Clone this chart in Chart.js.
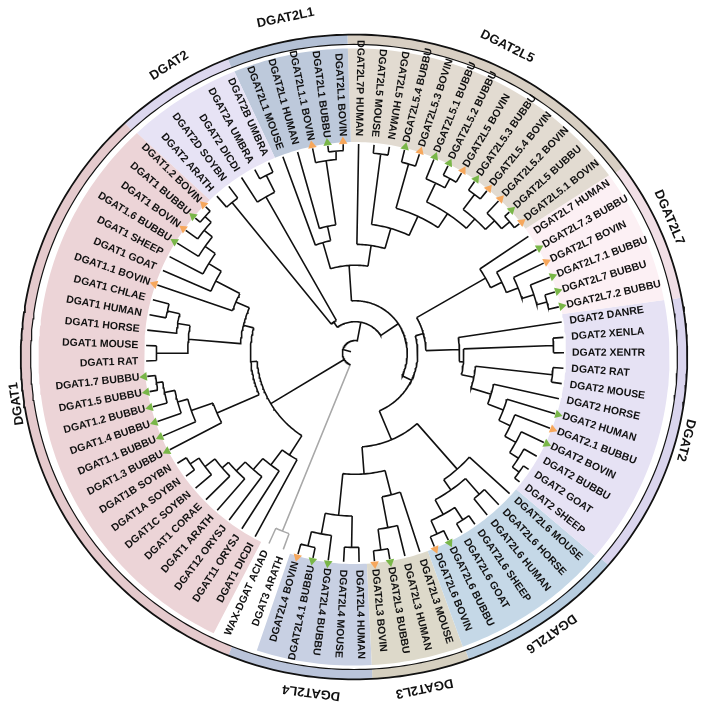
<!DOCTYPE html>
<html>
<head>
<meta charset="utf-8">
<script src="https://cdn.jsdelivr.net/npm/chart.js@4.4.0/dist/chart.umd.min.js"></script>
<style>
  html, body { margin: 0; padding: 0; background: #fff; }
  #wrap { width: 709px; height: 711px; }
</style>
</head>
<body>
<div id="wrap"><canvas id="tree"></canvas></div>
<script>
// leaves, clockwise, starting at the bottom-left (DGAT3 ARATH)
var leafNames = [
  'DGAT3 ARATH', 'WAX-DGAT ACIAD',
  'DGAT1 DICDI', 'DGAT11 ORYSJ', 'DGAT12 ORYSJ', 'DGAT1 ARATH', 'DGAT1 CORAE',
  'DGAT1C SOYBN', 'DGAT1A SOYBN', 'DGAT1B SOYBN',
  'DGAT1.3 BUBBU', 'DGAT1.1 BUBBU', 'DGAT1.4 BUBBU', 'DGAT1.2 BUBBU', 'DGAT1.5 BUBBU', 'DGAT1.7 BUBBU',
  'DGAT1 RAT', 'DGAT1 MOUSE', 'DGAT1 HORSE', 'DGAT1 HUMAN', 'DGAT1 CHLAE',
  'DGAT1.1 BOVIN', 'DGAT1 GOAT', 'DGAT1 SHEEP', 'DGAT1.6 BUBBU', 'DGAT1 BOVIN', 'DGAT1 BUBBU', 'DGAT1.2 BOVIN',
  'DGAT2 ARATH', 'DGAT2D SOYBN', 'DGAT2 DICDI', 'DGAT2A UMBRA', 'DGAT2B UMBRA',
  'DGAT2L1 MOUSE', 'DGAT2L1 HUMAN', 'DGAT2L1.1 BOVIN', 'DGAT2L1 BUBBU', 'DGAT2L1 BOVIN',
  'DGAT2L7P HUMAN', 'DGAT2L5 MOUSE', 'DGAT2L5 HUMAN', 'DGAT2L5.4 BUBBU', 'DGAT2L5.3 BOVIN',
  'DGAT2L5.1 BUBBU', 'DGAT2L5.2 BUBBU', 'DGAT2L5 BOVIN', 'DGAT2L5.3 BUBBU', 'DGAT2L5.4 BOVIN',
  'DGAT2L5.2 BOVIN', 'DGAT2L5 BUBBU', 'DGAT2L5.1 BOVIN',
  'DGAT2L7 HUMAN', 'DGAT2L7.3 BUBBU', 'DGAT2L7 BOVIN', 'DGAT2L7.1 BUBBU', 'DGAT2L7 BUBBU', 'DGAT2L7.2 BUBBU',
  'DGAT2 DANRE', 'DGAT2 XENLA', 'DGAT2 XENTR', 'DGAT2 RAT', 'DGAT2 MOUSE', 'DGAT2 HORSE',
  'DGAT2 HUMAN', 'DGAT2.1 BUBBU', 'DGAT2 BOVIN', 'DGAT2 BUBBU', 'DGAT2 GOAT', 'DGAT2 SHEEP',
  'DGAT2L6 MOUSE', 'DGAT2L6 HORSE', 'DGAT2L6 HUMAN', 'DGAT2L6 SHEEP', 'DGAT2L6 GOAT', 'DGAT2L6 BUBBU', 'DGAT2L6 BOVIN',
  'DGAT2L3 MOUSE', 'DGAT2L3 HUMAN', 'DGAT2L3 BUBBU', 'DGAT2L3 BOVIN',
  'DGAT2L4 HUMAN', 'DGAT2L4 MOUSE', 'DGAT2L4 BUBBU', 'DGAT2L4.1 BUBBU', 'DGAT2L4 BOVIN'
];

// arrow marks at the tips: g = green, o = orange
var leafMarks = [
  '', '',
  '', '', '', '', '', '', '', '',
  'g', 'g', 'g', 'g', 'g', 'g',
  '', '', '', '', '',
  'o', '', '', 'g', 'o', 'g', 'o',
  '', '', '', '', '',
  '', '', 'o', 'g', 'o',
  '', '', '', 'g', 'o', 'g', 'g', 'o', 'g', 'o', 'o', 'g', 'o',
  '', 'g', 'o', 'g', 'g', 'g',
  '', '', '', '', '', '', 'g', 'o', 'g', '', '', '',
  '', '', '', '', '', 'g', 'o',
  '', '', 'g', 'o',
  '', '', 'g', 'g', 'o'
];

var grayLeaves = ['DGAT3 ARATH', 'WAX-DGAT ACIAD'];

// topology; leaf = index in leafNames, number after ')' = node depth (1 = tips)
var treeNewick =
  '(' +
    '(0,1)0.92,' +
    '((2,(3,(4,(5,(6,(7,(8,9)0.95)0.9)0.84)0.8)0.74)0.67)0.58,' +
     '((10,(11,(12,(13,(14,15)0.96)0.93)0.88)0.83)0.72,' +
      '(((16,17)0.95,(18,(19,20)0.92)0.86)0.8,(21,(22,(23,(24,(25,(26,27)0.97)0.93)0.88)0.82)0.75)0.62)0.55)0.5)0.47,' +
    '(((28,29)0.93,(30,(31,32)0.95)0.86)0.18,' +
     '(((33,(34,(35,(36,37)0.97)0.93)0.62)0.55,' +
       '(38,((39,40)0.96,((41,42)0.94,((43,(44,45)0.95)0.9,((46,47)0.95,(48,(49,50)0.97)0.92)0.86)0.8)0.72)0.62)0.52)0.42,' +
      '(((51,(52,(53,(54,(55,56)0.95)0.9)0.84)0.78)0.72,' +
        '(57,((58,59)0.95,((60,61)0.95,(62,(63,(64,(65,(66,(67,68)0.97)0.93)0.88)0.82)0.76)0.68)0.58)0.52)0.5)0.34,' +
       '((69,((70,71)0.9,((72,73)0.95,(74,75)0.95)0.88)0.8)0.74,' +
        '((76,(77,(78,79)0.95)0.85)0.7,((80,81)0.93,(82,(83,84)0.95)0.88)0.78)0.58)0.45)0.3)0.25)0.15' +
  ')0.06';

var groupNames = ['DGAT1', 'DGAT2', 'DGAT2L1', 'DGAT2L5', 'DGAT2L7', 'DGAT2', 'DGAT2L6', 'DGAT2L3', 'DGAT2L4'];
var groupFirst = [2, 28, 33, 38, 51, 57, 69, 76, 80];
var groupLast  = [27, 32, 37, 50, 56, 68, 75, 79, 84];

var shadeColors = ['#ecd4d7', '#e7e3f5', '#bdc9db', '#e2dbd1', '#fcf0f4', '#e6e2f4', '#c5d8e7', '#ddd9ca', '#c8d0e3'];
var ringColors  = ['#e5cacd', '#dcd7ee', '#b4c1d6', '#d8cfc3', '#f1dfe6', '#dad5ee', '#b7cde0', '#d5cfbf', '#bac4da'];

var startAngle = 200.06;
var step = 360 / leafNames.length;
var tipR = 212, labelR = 220, shadeIn = 214;
// outer frame is a little flatter than the tree and sits a few px lower
var frameOff = { x: -1, y: -4 };
var shadeOut = { rx: 320, ry: 313 };
var ringIn = { rx: 328, ry: 317 };
var ringOut = { rx: 338, ry: 327 };
var groupLabelR = 347;
var flipAngle = 10.5;

function leafAngle(i) { return startAngle + i * step; }

function polar(r, a) {
  var rad = a * Math.PI / 180;
  return { x: r * Math.sin(rad), y: r * Math.cos(rad) };
}

function ellPt(e, a) {
  var rad = a * Math.PI / 180;
  return { x: frameOff.x + e.rx * Math.sin(rad), y: frameOff.y + e.ry * Math.cos(rad) };
}

function angles(a1, a2) {
  var out = [];
  var n = Math.max(2, Math.ceil(Math.abs(a2 - a1)) + 1);
  for (var k = 0; k < n; k++) out.push(a1 + (a2 - a1) * k / (n - 1));
  return out;
}

function arcPts(r, a1, a2) {
  return angles(a1, a2).map(function (a) { return polar(r, a); });
}

function ellArc(e, a1, a2) {
  return angles(a1, a2).map(function (a) { return ellPt(e, a); });
}

function parseTree(s) {
  var pos = 0;
  function readNum() {
    var m = /^[0-9.]+/.exec(s.slice(pos));
    pos += m[0].length;
    return parseFloat(m[0]);
  }
  function node() {
    if (s[pos] === '(') {
      pos++;
      var kids = [node()];
      while (s[pos] === ',') { pos++; kids.push(node()); }
      pos++;
      return { kids: kids, d: readNum() };
    }
    return { leaf: readNum(), d: 1 };
  }
  return node();
}

function layout(n) {
  if (n.leaf !== undefined) {
    n.a = leafAngle(n.leaf);
    n.gray = grayLeaves.indexOf(leafNames[n.leaf]) >= 0;
    return;
  }
  n.kids.forEach(layout);
  n.a = (n.kids[0].a + n.kids[n.kids.length - 1].a) / 2;
  n.gray = n.kids.every(function (k) { return k.gray; });
}

var blackLines = [], grayLines = [];
function gap(list) { list.push({ x: null, y: null }); }

function collect(n) {
  if (n.leaf !== undefined) return;
  var list = n.gray ? grayLines : blackLines;
  arcPts(n.d * tipR, n.kids[0].a, n.kids[n.kids.length - 1].a).forEach(function (p) { list.push(p); });
  gap(list);
  n.kids.forEach(function (k) {
    var kl = k.gray ? grayLines : blackLines;
    kl.push(polar(n.d * tipR, k.a), polar(k.d * tipR, k.a));
    gap(kl);
    collect(k);
  });
}

var root = parseTree(treeNewick);
layout(root);
collect(root);
blackLines.push(polar(0.02 * tipR, root.a), polar(root.d * tipR, root.a));

var datasets = [];

groupNames.forEach(function (g, i) {
  var a1 = leafAngle(groupFirst[i]) - step / 2, a2 = leafAngle(groupLast[i]) + step / 2;
  // shaded sector: outer edge on the frame, inner edge just outside the tips
  var shape = ellArc(shadeOut, a1, a2).concat(arcPts(shadeIn, a2, a1));
  shape.push(shape[0]);
  datasets.push({
    data: shape, showLine: true, pointRadius: 0, borderWidth: 0,
    fill: 'shape', backgroundColor: shadeColors[i], order: 6
  });
  // coloured band of the outer ring; bands meet half way across gaps
  var prevLast = groupLast[(i + groupNames.length - 1) % groupNames.length];
  var nextFirst = groupFirst[(i + 1) % groupNames.length];
  if (prevLast > groupFirst[i]) prevLast -= leafNames.length;
  if (nextFirst < groupLast[i]) nextFirst += leafNames.length;
  var b1 = leafAngle((prevLast + groupFirst[i]) / 2), b2 = leafAngle((groupLast[i] + nextFirst) / 2);
  var band = ellArc(ringOut, b1, b2).concat(ellArc(ringIn, b2, b1));
  band.push(band[0]);
  datasets.push({
    data: band, showLine: true, pointRadius: 0, borderWidth: 0,
    fill: 'shape', backgroundColor: ringColors[i], order: 5
  });
});

datasets.push({ data: ellArc(ringIn, 0, 360), showLine: true, pointRadius: 0, borderColor: '#111', borderWidth: 1.2, order: 4 });
datasets.push({ data: ellArc(ringOut, 0, 360), showLine: true, pointRadius: 0, borderColor: '#111', borderWidth: 1.8, order: 4 });

datasets.push({ data: grayLines, showLine: true, spanGaps: false, pointRadius: 0, borderColor: '#a8a8a8', borderWidth: 1.5, order: 3 });
datasets.push({ data: blackLines, showLine: true, spanGaps: false, pointRadius: 0, borderColor: '#111', borderWidth: 1.6, order: 2 });

var markPts = [], markRot = [], markCol = [];
leafMarks.forEach(function (m, i) {
  if (!m) return;
  markPts.push(polar(tipR + 3, leafAngle(i)));
  markRot.push(leafAngle(i));
  markCol.push(m === 'g' ? '#79b648' : '#f6a75c');
});
datasets.push({
  data: markPts, showLine: false, pointStyle: 'triangle', pointRadius: 5,
  pointRotation: markRot, pointBackgroundColor: markCol, pointBorderWidth: 0, order: 1
});

var labelPlugin = {
  id: 'labels',
  afterDatasetsDraw: function (chart) {
    var ctx = chart.ctx, xs = chart.scales.x, ys = chart.scales.y;
    ctx.save();
    ctx.fillStyle = '#111';
    ctx.textBaseline = 'middle';
    ctx.font = 'bold 10.5px "Liberation Sans", Arial, sans-serif';
    leafNames.forEach(function (name, i) {
      var a = leafAngle(i), p = polar(labelR, a);
      var rel = ((a - flipAngle) % 360 + 360) % 360;
      ctx.save();
      ctx.translate(xs.getPixelForValue(p.x), ys.getPixelForValue(p.y));
      if (rel < 180) {
        ctx.rotate((a - 90) * Math.PI / 180);
        ctx.textAlign = 'left';
      } else {
        ctx.rotate((a + 90) * Math.PI / 180);
        ctx.textAlign = 'right';
      }
      ctx.fillText(name, 0, 0);
      ctx.restore();
    });
    ctx.font = 'bold 13px "Liberation Sans", Arial, sans-serif';
    ctx.textAlign = 'center';
    groupNames.forEach(function (g, i) {
      var a = (leafAngle(groupFirst[i]) + leafAngle(groupLast[i])) / 2;
      var p = polar(groupLabelR, a);
      ctx.save();
      ctx.translate(xs.getPixelForValue(p.x), ys.getPixelForValue(p.y));
      ctx.rotate(a * Math.PI / 180);
      ctx.fillText(g, 0, 0);
      ctx.restore();
    });
    ctx.restore();
  }
};

new Chart(document.getElementById('tree').getContext('2d'), {
  type: 'scatter',
  data: { datasets: datasets },
  options: {
    responsive: true,
    maintainAspectRatio: false,
    animation: false,
    layout: { padding: 0 },
    plugins: { legend: { display: false }, tooltip: { enabled: false } },
    scales: {
      x: { type: 'linear', min: -355, max: 354, display: false },
      y: { type: 'linear', min: -358, max: 353, display: false }
    }
  },
  plugins: [labelPlugin]
});
</script>
</body>
</html>
